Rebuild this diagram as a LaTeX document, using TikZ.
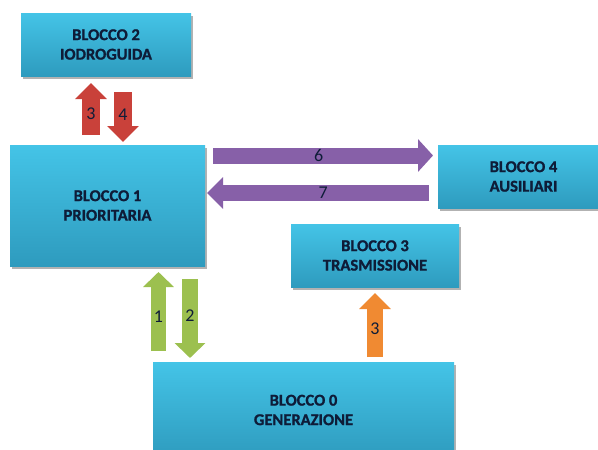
\documentclass[tikz,border=0pt]{standalone}
\usepackage{fontspec}
\setmainfont{Carlito}
\newfontfamily\boxfont{Carlito}[UprightFont=*-Bold, FakeBold=1.2]
\usetikzlibrary{shadows,arrows.meta,calc}
\definecolor{boxtop}{HTML}{44C4E7}
\definecolor{boxbot}{HTML}{2E9BBE}
\definecolor{txtcol}{HTML}{0E1C38}
\definecolor{redA}{HTML}{C9413A}
\definecolor{purA}{HTML}{8760A8}
\definecolor{grnA}{HTML}{9CC04F}
\definecolor{orgA}{HTML}{F08A32}
\begin{document}
\begin{tikzpicture}[x=1pt,y=-1pt,
  blocco/.style={rectangle, inner sep=0pt, align=center, text=txtcol,
    top color=boxtop, bottom color=boxbot,
    font=\boxfont\fontsize{16.5}{19.5}\selectfont,
    drop shadow={shadow xshift=1.5pt, shadow yshift=-2.5pt, opacity=0.3, fill=black}},
  fat/.style n args={4}{draw=#1, line width=#2, -{Triangle[length=#4, width=#3]}},
  lbl/.style={text=txtcol, font=\fontsize{18}{18}\selectfont, inner sep=0pt}]
\useasboundingbox (0,0) rectangle (598,450);
\fill[white] (0,0) rectangle (598,450);

\node[blocco, minimum width=170pt, minimum height=63pt] (b2) at (106,44.5) {BLOCCO 2\\IODROGUIDA};
\node[blocco, minimum width=195pt, minimum height=121pt] (b1) at (107.5,205.5) {BLOCCO 1\\PRIORITARIA};
\node[blocco, minimum width=171pt, minimum height=63pt] (b4) at (523.5,176.5) {BLOCCO 4\\AUSILIARI};
\node[blocco, minimum width=168pt, minimum height=63pt] (b3) at (375,255.5) {BLOCCO 3\\TRASMISSIONE};
\node[blocco, minimum width=301pt, minimum height=96pt] (b0) at (303.5,410) {BLOCCO 0\\GENERAZIONE};

% arrow end points
\coordinate (r3s) at (91,135);   \coordinate (r3e) at (91,83);
\coordinate (r4s) at (123,92);   \coordinate (r4e) at (123,142);
\coordinate (p6s) at (213,155.5);\coordinate (p6e) at (433,155.5);
\coordinate (p7s) at (429,193);  \coordinate (p7e) at (207,193);
\coordinate (g1s) at (158.5,351);\coordinate (g1e) at (158.5,272);
\coordinate (g2s) at (190,279);  \coordinate (g2e) at (190,358);
\coordinate (o3s) at (375,357);  \coordinate (o3e) at (375,293);

\draw[fat={redA}{18pt}{31pt}{16pt}] (r3s) -- (r3e) node[lbl, pos=0.40] {3};
\draw[fat={redA}{18pt}{31pt}{16pt}] (r4s) -- (r4e) node[lbl, pos=0.46] {4};
\draw[fat={purA}{16pt}{32pt}{15pt}] (p6s) -- (p6e) node[lbl, pos=0.48] {6};
\draw[fat={purA}{16pt}{31pt}{16pt}] (p7s) -- (p7e) node[lbl, pos=0.477] {7};
\draw[fat={grnA}{15pt}{30pt}{15pt}] (g1s) -- (g1e) node[lbl, pos=0.43] {1};
\draw[fat={grnA}{16pt}{30pt}{15pt}] (g2s) -- (g2e) node[lbl, pos=0.47] {2};
\draw[fat={orgA}{16pt}{31pt}{16pt}] (o3s) -- (o3e) node[lbl, pos=0.44] {3};
\end{tikzpicture}
\end{document}
